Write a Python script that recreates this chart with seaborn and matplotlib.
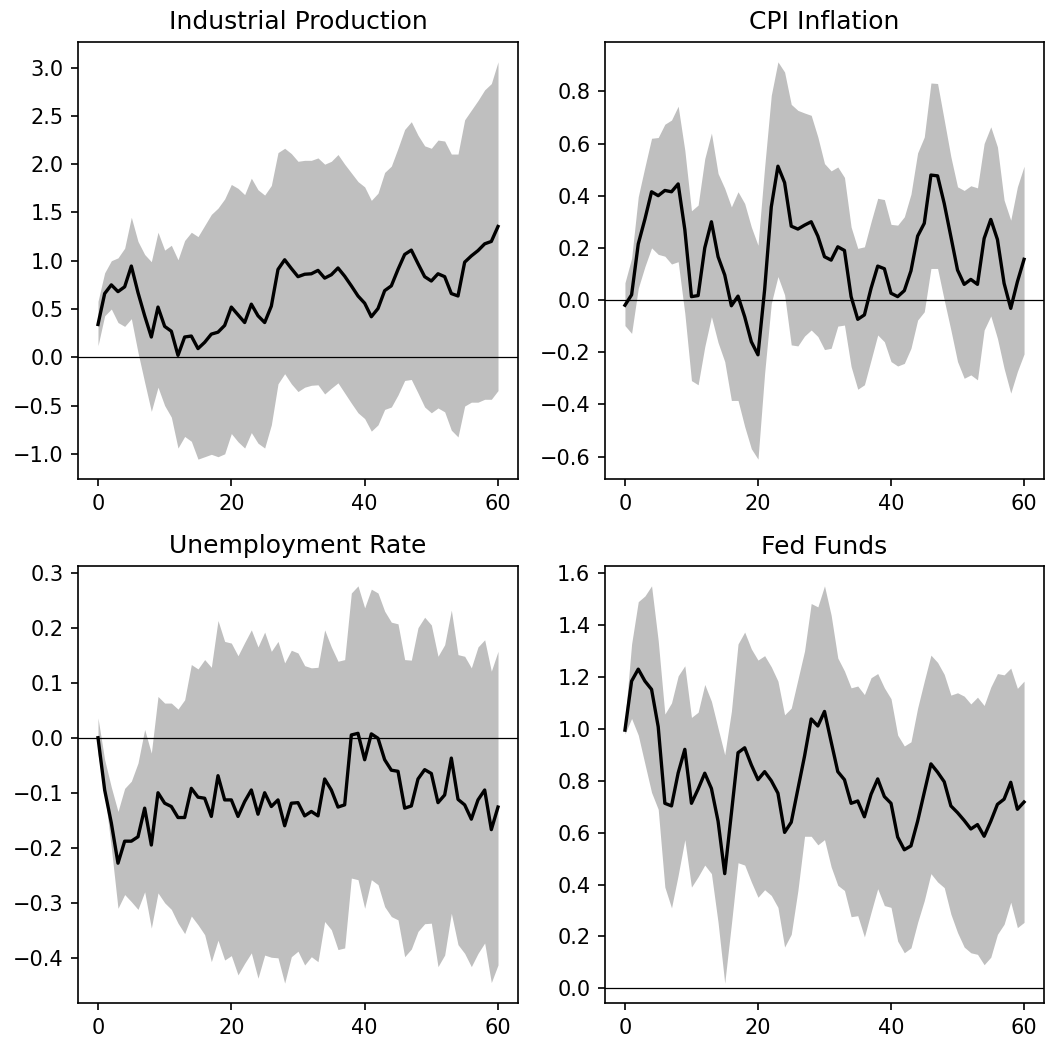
import numpy as np
import pandas as pd
import matplotlib
matplotlib.use("Agg")
import matplotlib.pyplot as plt
from matplotlib.ticker import MultipleLocator
import seaborn as sns

horizon = list(range(61))

titles = ["Industrial Production", "CPI Inflation", "Unemployment Rate", "Fed Funds"]

ip_mid = [0.34, 0.66, 0.75, 0.68, 0.73, 0.945, 0.67, 0.43, 0.21, 0.52, 0.32, 0.27, 0.02, 0.21, 0.22,
          0.09, 0.155, 0.24, 0.26, 0.33, 0.52, 0.44, 0.36, 0.55, 0.43, 0.36, 0.53, 0.91, 1.01, 0.92,
          0.835, 0.86, 0.865, 0.90, 0.82, 0.855, 0.925, 0.84, 0.74, 0.635, 0.56, 0.42, 0.505, 0.69, 0.74,
          0.91, 1.065, 1.11, 0.97, 0.835, 0.79, 0.865, 0.835, 0.66, 0.635, 0.985, 1.05, 1.105, 1.175, 1.20,
          1.355]
ip_up = [0.58, 0.875, 1.0, 1.03, 1.13, 1.45, 1.20, 1.065, 0.99, 1.295, 1.11, 1.16, 1.01, 1.21, 1.295,
         1.25, 1.365, 1.48, 1.545, 1.64, 1.79, 1.75, 1.685, 1.855, 1.735, 1.68, 1.78, 2.12, 2.165, 2.11,
         2.03, 2.04, 2.04, 2.065, 2.0, 2.03, 2.10, 2.0, 1.91, 1.82, 1.765, 1.625, 1.70, 1.915, 1.98,
         2.165, 2.36, 2.44, 2.30, 2.19, 2.165, 2.25, 2.24, 2.105, 2.105, 2.46, 2.56, 2.66, 2.77, 2.835,
         3.06]
ip_lo = [0.12, 0.43, 0.50, 0.36, 0.32, 0.40, 0.05, -0.26, -0.56, -0.31, -0.50, -0.62, -0.94, -0.82, -0.87,
         -1.055, -1.03, -1.005, -1.03, -1.0, -0.79, -0.875, -0.94, -0.78, -0.89, -0.94, -0.70, -0.275, -0.17, -0.275,
         -0.355, -0.31, -0.29, -0.285, -0.38, -0.32, -0.265, -0.37, -0.475, -0.575, -0.635, -0.765, -0.70, -0.54, -0.515,
         -0.39, -0.24, -0.23, -0.37, -0.515, -0.575, -0.525, -0.565, -0.755, -0.825, -0.505, -0.465, -0.465, -0.435, -0.435,
         -0.345]

cpi_mid = [-0.02, 0.02, 0.215, 0.31, 0.415, 0.40, 0.42, 0.415, 0.445, 0.27, 0.013, 0.017, 0.20, 0.30, 0.166,
           0.096, -0.022, 0.015, -0.064, -0.16, -0.21, 0.04, 0.357, 0.513, 0.45, 0.283, 0.272, 0.287, 0.30, 0.245,
           0.166, 0.153, 0.204, 0.19, 0.013, -0.074, -0.057, 0.045, 0.13, 0.12, 0.026, 0.013, 0.036, 0.112, 0.245,
           0.294, 0.479, 0.476, 0.37, 0.243, 0.115, 0.06, 0.079, 0.06, 0.236, 0.309, 0.232, 0.064, -0.032, 0.07,
           0.156]
cpi_up = [0.066, 0.16, 0.396, 0.51, 0.62, 0.623, 0.674, 0.69, 0.743, 0.574, 0.342, 0.364, 0.542, 0.64, 0.485,
          0.428, 0.357, 0.415, 0.37, 0.28, 0.21, 0.51, 0.785, 0.913, 0.874, 0.75, 0.727, 0.717, 0.708, 0.625,
          0.523, 0.495, 0.51, 0.47, 0.28, 0.198, 0.204, 0.30, 0.39, 0.385, 0.29, 0.287, 0.319, 0.406, 0.564,
          0.625, 0.832, 0.83, 0.69, 0.549, 0.434, 0.42, 0.438, 0.43, 0.60, 0.664, 0.587, 0.383, 0.306, 0.434,
          0.513]
cpi_lo = [-0.098, -0.128, 0.045, 0.128, 0.20, 0.175, 0.168, 0.138, 0.147, -0.051, -0.309, -0.325, -0.179, -0.064, -0.163,
          -0.236, -0.385, -0.385, -0.485, -0.57, -0.61, -0.28, -0.013, 0.09, 0.02, -0.172, -0.176, -0.138, -0.115, -0.14,
          -0.19, -0.185, -0.10, -0.096, -0.255, -0.342, -0.325, -0.23, -0.134, -0.16, -0.236, -0.253, -0.243, -0.185, -0.077,
          -0.045, 0.121, 0.121, 0.0, -0.115, -0.236, -0.30, -0.287, -0.306, -0.115, -0.061, -0.147, -0.262, -0.357, -0.274,
          -0.207]

ur_mid = [0.0, -0.095, -0.155, -0.228, -0.188, -0.188, -0.18, -0.128, -0.195, -0.10, -0.119, -0.125, -0.145, -0.145, -0.092,
          -0.108, -0.11, -0.143, -0.069, -0.113, -0.113, -0.143, -0.116, -0.095, -0.139, -0.10, -0.125, -0.113, -0.16, -0.119,
          -0.118, -0.142, -0.134, -0.142, -0.075, -0.095, -0.126, -0.122, 0.005, 0.008, -0.04, 0.007, -0.001, -0.04, -0.059,
          -0.061, -0.128, -0.124, -0.075, -0.058, -0.065, -0.118, -0.104, -0.037, -0.112, -0.122, -0.148, -0.113, -0.095, -0.167,
          -0.126]
ur_up = [0.036, -0.04, -0.09, -0.134, -0.092, -0.079, -0.046, 0.015, -0.028, 0.075, 0.063, 0.063, 0.052, 0.069, 0.133,
         0.125, 0.142, 0.128, 0.213, 0.175, 0.172, 0.149, 0.173, 0.196, 0.165, 0.192, 0.157, 0.175, 0.136, 0.159,
         0.154, 0.131, 0.127, 0.128, 0.196, 0.165, 0.139, 0.142, 0.263, 0.276, 0.236, 0.27, 0.263, 0.23, 0.21,
         0.207, 0.142, 0.141, 0.20, 0.219, 0.205, 0.148, 0.169, 0.232, 0.151, 0.148, 0.127, 0.165, 0.178, 0.121,
         0.157]
ur_lo = [-0.03, -0.10, -0.20, -0.31, -0.285, -0.298, -0.312, -0.28, -0.346, -0.282, -0.30, -0.312, -0.337, -0.356, -0.324,
         -0.34, -0.358, -0.407, -0.368, -0.404, -0.396, -0.431, -0.41, -0.391, -0.437, -0.395, -0.399, -0.40, -0.446, -0.398,
         -0.388, -0.413, -0.398, -0.407, -0.334, -0.349, -0.385, -0.382, -0.255, -0.258, -0.31, -0.258, -0.267, -0.307, -0.325,
         -0.331, -0.398, -0.384, -0.352, -0.338, -0.337, -0.416, -0.395, -0.319, -0.376, -0.392, -0.416, -0.392, -0.373, -0.445,
         -0.413]

ff_mid = [0.995, 1.184, 1.23, 1.184, 1.152, 1.008, 0.713, 0.703, 0.83, 0.921, 0.713, 0.768, 0.829, 0.77, 0.644,
          0.442, 0.674, 0.908, 0.927, 0.861, 0.804, 0.835, 0.80, 0.752, 0.601, 0.64, 0.768, 0.895, 1.038, 1.011,
          1.067, 0.95, 0.835, 0.804, 0.713, 0.722, 0.661, 0.748, 0.807, 0.739, 0.713, 0.583, 0.534, 0.549, 0.644,
          0.755, 0.865, 0.833, 0.796, 0.703, 0.677, 0.647, 0.614, 0.631, 0.586, 0.644, 0.709, 0.729, 0.794, 0.69,
          0.718]
ff_up = [1.03, 1.327, 1.49, 1.512, 1.551, 1.34, 1.057, 1.10, 1.204, 1.243, 1.044, 1.064, 1.171, 1.106, 1.002,
         0.90, 1.067, 1.327, 1.373, 1.308, 1.265, 1.282, 1.239, 1.184, 1.054, 1.08, 1.19, 1.30, 1.483, 1.47,
         1.551, 1.438, 1.273, 1.223, 1.158, 1.165, 1.132, 1.197, 1.213, 1.158, 1.116, 0.976, 0.934, 0.95, 1.08,
         1.184, 1.284, 1.256, 1.21, 1.13, 1.139, 1.126, 1.096, 1.122, 1.09, 1.161, 1.213, 1.208, 1.234, 1.156,
         1.184]
ff_lo = [0.98, 1.04, 0.976, 0.865, 0.755, 0.69, 0.39, 0.31, 0.436, 0.573, 0.39, 0.43, 0.475, 0.442, 0.254,
         0.02, 0.247, 0.484, 0.475, 0.41, 0.351, 0.38, 0.358, 0.312, 0.159, 0.208, 0.377, 0.586, 0.586, 0.553,
         0.573, 0.468, 0.397, 0.377, 0.276, 0.28, 0.198, 0.293, 0.384, 0.319, 0.312, 0.182, 0.137, 0.156, 0.254,
         0.338, 0.442, 0.41, 0.388, 0.286, 0.215, 0.159, 0.137, 0.131, 0.091, 0.12, 0.208, 0.247, 0.332, 0.234,
         0.254]

series = [(ip_mid, ip_lo, ip_up), (cpi_mid, cpi_lo, cpi_up),
          (ur_mid, ur_lo, ur_up), (ff_mid, ff_lo, ff_up)]
ytick_steps = [0.5, 0.2, 0.1, 0.2]

W, H = 1045, 1040
fig = plt.figure(figsize=(W / 150, H / 150), dpi=150)
# axes rectangles in pixels: left, top, right, bottom
rects_px = [(78, 42, 518, 479), (605, 42, 1044, 479),
            (78, 566, 518, 1003), (605, 566, 1044, 1003)]

for (title, (mid, lo, up), (l, t, r, b), step) in zip(titles, series, rects_px, ytick_steps):
    ax = fig.add_axes([l / W, 1 - b / H, (r - l) / W, (b - t) / H])
    df = pd.DataFrame({"h": horizon, "mid": mid, "lo": lo, "up": up})
    ax.fill_between(df["h"], df["lo"], df["up"], color="#bfbfbf", lw=0)
    sns.lineplot(data=df, x="h", y="mid", color="black", lw=1.6, ax=ax)
    ax.axhline(0, color="black", lw=0.6)
    ax.set_title(title, fontsize=12)
    ax.set_xlabel("")
    ax.set_ylabel("")
    ax.set_xticks([0, 20, 40, 60])
    ax.yaxis.set_major_locator(MultipleLocator(step))

fig.savefig("out.png", dpi=150)
